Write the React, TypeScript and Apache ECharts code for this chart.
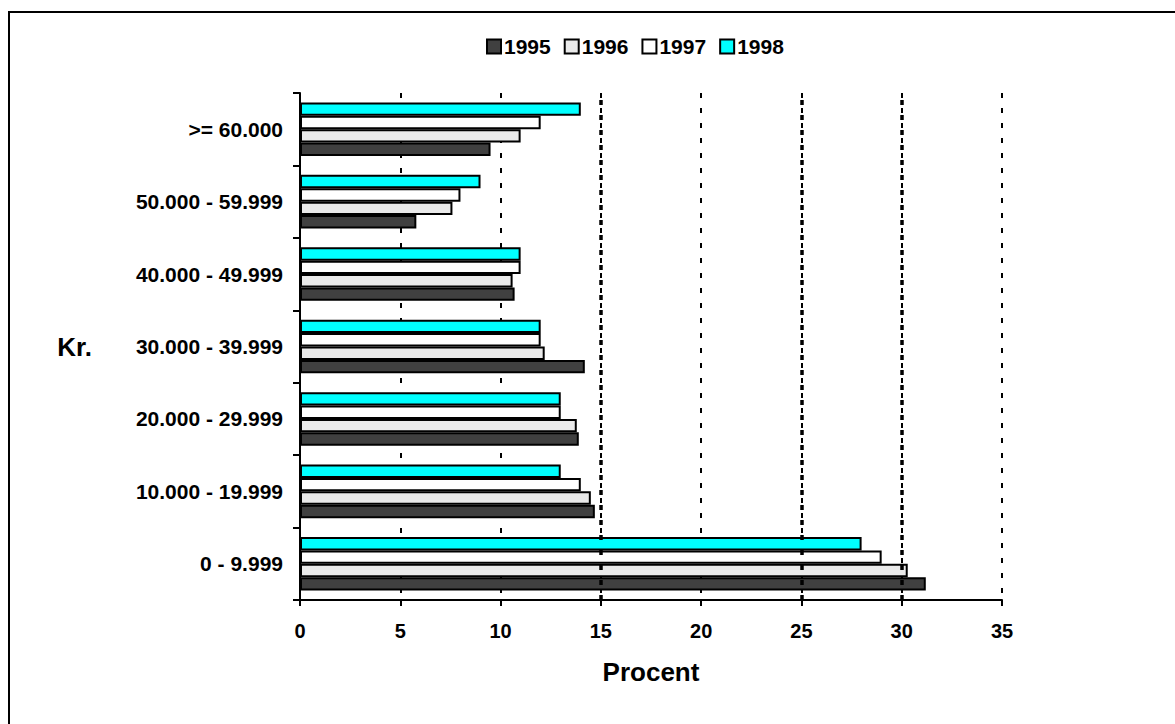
import React, { useEffect, useRef } from "react";
import * as echarts from "echarts";

const categories = ["0 - 9.999", "10.000 - 19.999", "20.000 - 29.999", "30.000 - 39.999", "40.000 - 49.999", "50.000 - 59.999", ">= 60.000"];
const seriesNames = ["1995", "1996", "1997", "1998"];
const values1995 = [31.2, 14.7, 13.9, 14.2, 10.7, 5.8, 9.5];
const values1996 = [30.3, 14.5, 13.8, 12.2, 10.6, 7.6, 11.0];
const values1997 = [29.0, 14.0, 13.0, 12.0, 11.0, 8.0, 12.0];
const values1998 = [28.0, 13.0, 13.0, 12.0, 11.0, 9.0, 14.0];
const seriesColors = ["#404040", "#eaeaea", "#ffffff", "#00ffff"];
const thickGridValues = [15, 25, 30];

const FONT = "'Liberation Sans', Arial, sans-serif";

export default function App() {
  const ref = useRef<HTMLDivElement>(null);
  useEffect(() => {
    document.body.style.margin = "0";
    const chart = echarts.init(ref.current!, null, { renderer: "svg" });
    const allValues = [values1995, values1996, values1997, values1998];
    // ECharts places the first series at the top of each band, so add them in reverse
    const barSeries = seriesNames
      .map((name, i) => ({
        name,
        type: "bar",
        data: allValues[i],
        z: 3,
        barGap: "0%",
        barCategoryGap: "26%",
        itemStyle: { color: seriesColors[i], borderColor: "#000", borderWidth: 2 },
      }))
      .reverse();
    chart.setOption({
      animation: false,
      backgroundColor: "#fff",
      textStyle: { fontFamily: FONT },
      graphic: [
        {
          type: "rect",
          shape: { x: 9, y: 12, width: 2000, height: 2000 },
          style: { fill: "none", stroke: "#000", lineWidth: 2 },
          silent: true,
        },
      ],
      legend: {
        data: seriesNames,
        top: 31,
        left: 481,
        itemWidth: 14,
        itemHeight: 14,
        itemGap: 13,
        icon: "rect",
        textStyle: { fontFamily: FONT, fontSize: 21, fontWeight: "bold", color: "#000", padding: [0, 0, 0, -2] },
      },
      grid: { left: 300, top: 93, width: 702, height: 507, containLabel: false },
      xAxis: {
        type: "value",
        min: 0,
        max: 35,
        interval: 5,
        name: "Procent",
        nameLocation: "middle",
        nameGap: 72,
        nameMoveOverlap: false,
        nameTextStyle: { fontFamily: FONT, fontSize: 26, fontWeight: "bold", color: "#000", verticalAlign: "middle" },
        axisLine: { show: true, lineStyle: { color: "#000", width: 2 } },
        axisTick: { show: true, length: 6, lineStyle: { color: "#000", width: 2 } },
        axisLabel: { fontFamily: FONT, fontSize: 20, fontWeight: "bold", color: "#000", margin: 21 },
        splitLine: { show: true, lineStyle: { color: "#000", width: 2, type: [5, 10] } },
      },
      yAxis: {
        type: "category",
        data: categories,
        name: "Kr.",
        nameLocation: "middle",
        nameRotate: 0,
        nameGap: 208,
        nameMoveOverlap: false,
        nameTextStyle: { fontFamily: FONT, fontSize: 26, fontWeight: "bold", color: "#000", align: "right" },
        axisLine: { show: true, lineStyle: { color: "#000", width: 2 } },
        axisTick: { show: true, length: 7, lineStyle: { color: "#000", width: 2 } },
        axisLabel: { fontFamily: FONT, fontSize: 21, fontWeight: "bold", color: "#000", margin: 17 },
        splitLine: { show: false },
      },
      series: [
        ...barSeries,
        {
          name: "grid-thick",
          type: "line",
          data: [],
          z: 1,
          silent: true,
          markLine: {
            silent: true,
            symbol: "none",
            label: { show: false },
            lineStyle: { color: "#000", width: 3.5, type: [5, 10] },
            data: thickGridValues.map((v) => ({ xAxis: v })),
          },
        },
      ],
    });
    return () => chart.dispose();
  }, []);
  return <div ref={ref} style={{ width: 1175, height: 724 }} />;
}
